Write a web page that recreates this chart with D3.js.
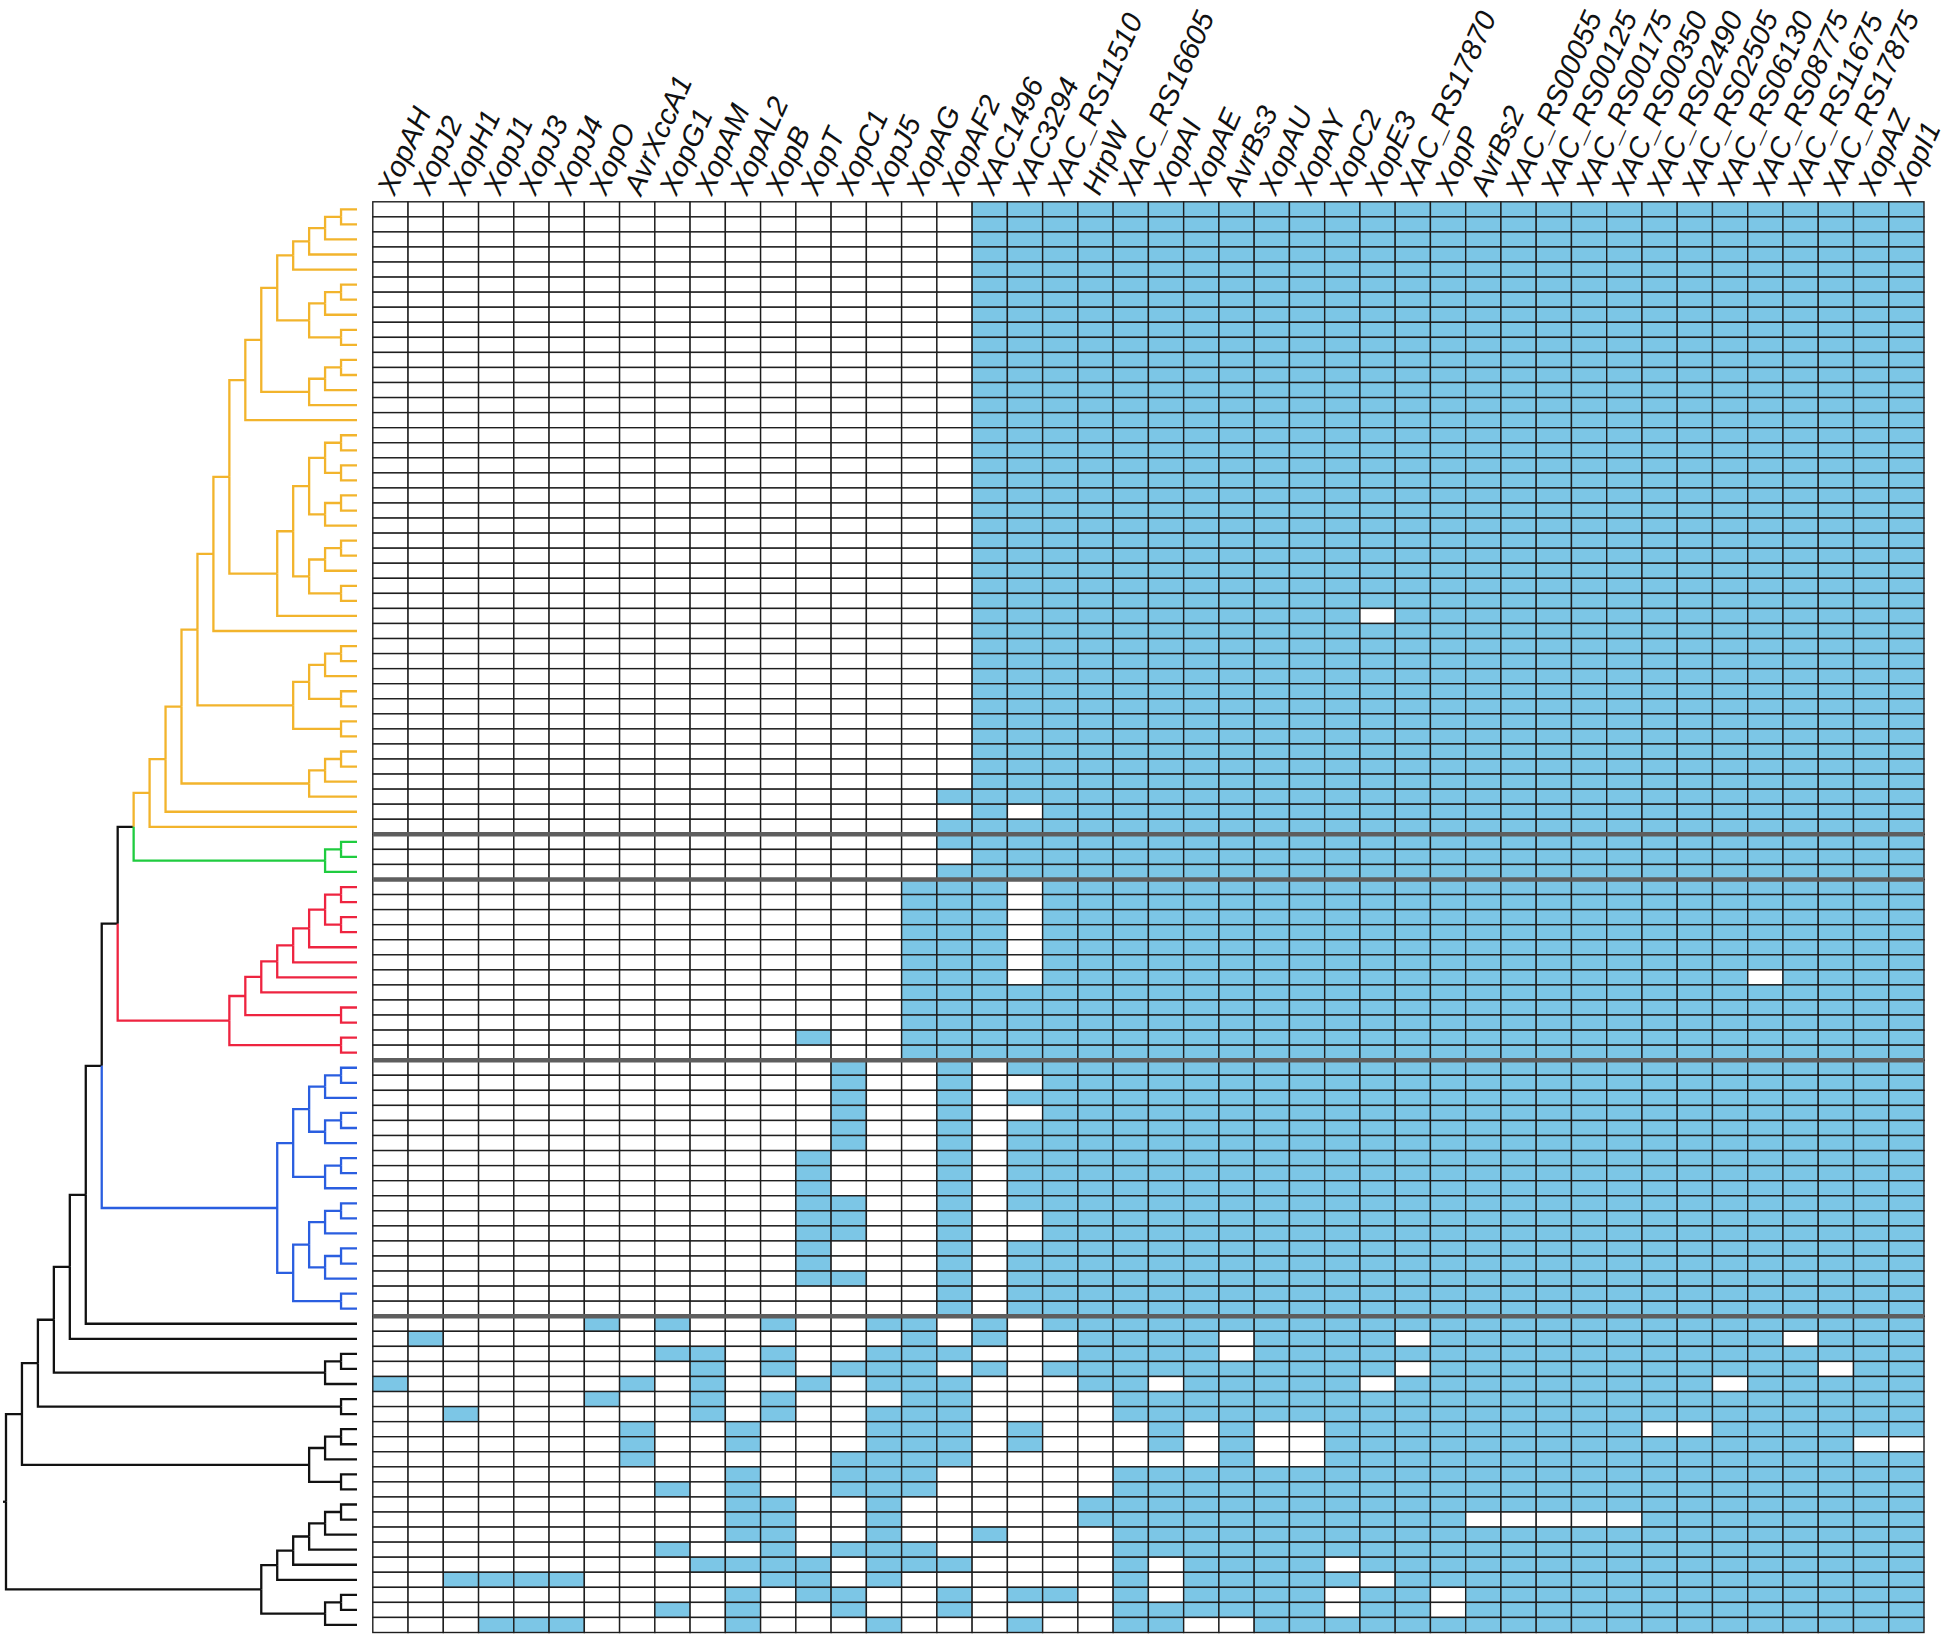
<!DOCTYPE html>
<meta charset="utf-8">
<style>
  body { margin: 0; background: #fff; }
  .label { font: italic 29px "Liberation Sans", Arial, sans-serif; fill: #111; }
</style>
<html>
<head>
  <script src="https://cdn.jsdelivr.net/npm/d3@7/dist/d3.min.js"></script>
</head>
<body>
<svg id="chart"></svg>
<script>
// effector genes (columns)
var genes = ["XopAH", "XopJ2", "XopH1", "XopJ1", "XopJ3", "XopJ4", "XopO", "AvrXccA1", "XopG1", "XopAM",
  "XopAL2", "XopB", "XopT", "XopC1", "XopJ5", "XopAG", "XopAF2", "XAC1496", "XAC3294", "XAC_RS11510",
  "HrpW", "XAC_RS16605", "XopAI", "XopAE", "AvrBs3", "XopAU", "XopAY", "XopC2", "XopE3", "XAC_RS17870",
  "XopP", "AvrBs2", "XAC_RS00055", "XAC_RS00125", "XAC_RS00175", "XAC_RS00350", "XAC_RS02490",
  "XAC_RS02505", "XAC_RS06130", "XAC_RS08775", "XAC_RS11675", "XAC_RS17875", "XopAZ", "XopI1"];

// presence (1) / absence (0), one string per strain, groups of 4 columns
var yellowRows = [
  "0000 0000 0000 0000 0111 1111 1111 1111 1111 1111 1111",
  "0000 0000 0000 0000 0111 1111 1111 1111 1111 1111 1111",
  "0000 0000 0000 0000 0111 1111 1111 1111 1111 1111 1111",
  "0000 0000 0000 0000 0111 1111 1111 1111 1111 1111 1111",
  "0000 0000 0000 0000 0111 1111 1111 1111 1111 1111 1111",
  "0000 0000 0000 0000 0111 1111 1111 1111 1111 1111 1111",
  "0000 0000 0000 0000 0111 1111 1111 1111 1111 1111 1111",
  "0000 0000 0000 0000 0111 1111 1111 1111 1111 1111 1111",
  "0000 0000 0000 0000 0111 1111 1111 1111 1111 1111 1111",
  "0000 0000 0000 0000 0111 1111 1111 1111 1111 1111 1111",
  "0000 0000 0000 0000 0111 1111 1111 1111 1111 1111 1111",
  "0000 0000 0000 0000 0111 1111 1111 1111 1111 1111 1111",
  "0000 0000 0000 0000 0111 1111 1111 1111 1111 1111 1111",
  "0000 0000 0000 0000 0111 1111 1111 1111 1111 1111 1111",
  "0000 0000 0000 0000 0111 1111 1111 1111 1111 1111 1111",
  "0000 0000 0000 0000 0111 1111 1111 1111 1111 1111 1111",
  "0000 0000 0000 0000 0111 1111 1111 1111 1111 1111 1111",
  "0000 0000 0000 0000 0111 1111 1111 1111 1111 1111 1111",
  "0000 0000 0000 0000 0111 1111 1111 1111 1111 1111 1111",
  "0000 0000 0000 0000 0111 1111 1111 1111 1111 1111 1111",
  "0000 0000 0000 0000 0111 1111 1111 1111 1111 1111 1111",
  "0000 0000 0000 0000 0111 1111 1111 1111 1111 1111 1111",
  "0000 0000 0000 0000 0111 1111 1111 1111 1111 1111 1111",
  "0000 0000 0000 0000 0111 1111 1111 1111 1111 1111 1111",
  "0000 0000 0000 0000 0111 1111 1111 1111 1111 1111 1111",
  "0000 0000 0000 0000 0111 1111 1111 1111 1111 1111 1111",
  "0000 0000 0000 0000 0111 1111 1111 1111 1111 1111 1111",
  "0000 0000 0000 0000 0111 1111 1111 0111 1111 1111 1111",
  "0000 0000 0000 0000 0111 1111 1111 1111 1111 1111 1111",
  "0000 0000 0000 0000 0111 1111 1111 1111 1111 1111 1111",
  "0000 0000 0000 0000 0111 1111 1111 1111 1111 1111 1111",
  "0000 0000 0000 0000 0111 1111 1111 1111 1111 1111 1111",
  "0000 0000 0000 0000 0111 1111 1111 1111 1111 1111 1111",
  "0000 0000 0000 0000 0111 1111 1111 1111 1111 1111 1111",
  "0000 0000 0000 0000 0111 1111 1111 1111 1111 1111 1111",
  "0000 0000 0000 0000 0111 1111 1111 1111 1111 1111 1111",
  "0000 0000 0000 0000 0111 1111 1111 1111 1111 1111 1111",
  "0000 0000 0000 0000 0111 1111 1111 1111 1111 1111 1111",
  "0000 0000 0000 0000 0111 1111 1111 1111 1111 1111 1111",
  "0000 0000 0000 0000 1111 1111 1111 1111 1111 1111 1111",
  "0000 0000 0000 0000 0101 1111 1111 1111 1111 1111 1111",
  "0000 0000 0000 0000 1111 1111 1111 1111 1111 1111 1111"
];
var greenRows = [
  "0000 0000 0000 0000 1111 1111 1111 1111 1111 1111 1111",
  "0000 0000 0000 0000 0111 1111 1111 1111 1111 1111 1111",
  "0000 0000 0000 0000 1111 1111 1111 1111 1111 1111 1111"
];
var redRows = [
  "0000 0000 0000 0001 1101 1111 1111 1111 1111 1111 1111",
  "0000 0000 0000 0001 1101 1111 1111 1111 1111 1111 1111",
  "0000 0000 0000 0001 1101 1111 1111 1111 1111 1111 1111",
  "0000 0000 0000 0001 1101 1111 1111 1111 1111 1111 1111",
  "0000 0000 0000 0001 1101 1111 1111 1111 1111 1111 1111",
  "0000 0000 0000 0001 1101 1111 1111 1111 1111 1111 1111",
  "0000 0000 0000 0001 1101 1111 1111 1111 1111 1110 1111",
  "0000 0000 0000 0001 1111 1111 1111 1111 1111 1111 1111",
  "0000 0000 0000 0001 1111 1111 1111 1111 1111 1111 1111",
  "0000 0000 0000 0001 1111 1111 1111 1111 1111 1111 1111",
  "0000 0000 0000 1001 1111 1111 1111 1111 1111 1111 1111",
  "0000 0000 0000 0001 1111 1111 1111 1111 1111 1111 1111"
];
var blueRows = [
  "0000 0000 0000 0100 1011 1111 1111 1111 1111 1111 1111",
  "0000 0000 0000 0100 1001 1111 1111 1111 1111 1111 1111",
  "0000 0000 0000 0100 1011 1111 1111 1111 1111 1111 1111",
  "0000 0000 0000 0100 1001 1111 1111 1111 1111 1111 1111",
  "0000 0000 0000 0100 1011 1111 1111 1111 1111 1111 1111",
  "0000 0000 0000 0100 1011 1111 1111 1111 1111 1111 1111",
  "0000 0000 0000 1000 1011 1111 1111 1111 1111 1111 1111",
  "0000 0000 0000 1000 1011 1111 1111 1111 1111 1111 1111",
  "0000 0000 0000 1000 1011 1111 1111 1111 1111 1111 1111",
  "0000 0000 0000 1100 1011 1111 1111 1111 1111 1111 1111",
  "0000 0000 0000 1100 1001 1111 1111 1111 1111 1111 1111",
  "0000 0000 0000 1100 1001 1111 1111 1111 1111 1111 1111",
  "0000 0000 0000 1000 1011 1111 1111 1111 1111 1111 1111",
  "0000 0000 0000 1000 1011 1111 1111 1111 1111 1111 1111",
  "0000 0000 0000 1100 1011 1111 1111 1111 1111 1111 1111",
  "0000 0000 0000 0000 1011 1111 1111 1111 1111 1111 1111",
  "0000 0000 0000 0000 1011 1111 1111 1111 1111 1111 1111"
];
var outRows = [
  "0000 0010 1001 0011 0101 1111 1111 1111 1111 1111 1111",
  "0100 0000 0000 0001 0100 1111 0111 1011 1111 1111 0111",
  "0000 0000 1101 0011 1000 1111 0111 1111 1111 1111 1111",
  "0000 0000 0101 0111 0101 1111 1111 1011 1111 1111 1011",
  "1000 0001 0100 1011 1000 1101 1111 0111 1111 1101 1111",
  "0000 0010 0101 0001 1000 0111 1111 1111 1111 1111 1111",
  "0010 0000 0101 0011 1000 0111 1111 1111 1111 1111 1111",
  "0000 0001 0010 0011 1010 0010 1001 1111 1111 0011 1111",
  "0000 0001 0010 0011 1010 0010 1001 1111 1111 1111 1100",
  "0000 0001 0000 0111 1000 0000 1001 1111 1111 1111 1111",
  "0000 0000 0010 0111 0000 0111 1111 1111 1111 1111 1111",
  "0000 0000 1010 0111 0000 0111 1111 1111 1111 1111 1111",
  "0000 0000 0011 0010 0000 1111 1111 1111 1111 1111 1111",
  "0000 0000 0011 0010 0000 1111 1111 1110 0000 1111 1111",
  "0000 0000 0011 0010 0100 0111 1111 1111 1111 1111 1111",
  "0000 0000 1001 0111 0000 0111 1111 1111 1111 1111 1111",
  "0000 0000 0111 1011 1000 0101 1110 1111 1111 1111 1111",
  "0011 1100 0001 1010 0000 0101 1111 0111 1111 1111 1111",
  "0000 0000 0010 1100 1011 0101 1110 1101 1111 1111 1111",
  "0000 0000 1010 0100 1000 0111 1110 1101 1111 1111 1111",
  "0001 1100 0010 0010 0010 0110 0111 1111 1111 1111 1111"
];

// dendrogram, newick: leaves are row numbers, internal labels are merge levels
var yellowTree = "(((((((((((((0,1)1,2)2,3)3,4)4,(((5,6)1,7)2,(8,9)1)3)5,(((10,11)1,12)2,13)3)6,14)7," +
  "(((((15,16)1,(17,18)1)2,((19,20)1,21)2)3,(((22,23)1,24)2,(25,26)1)3)4,27)5)8,28)9," +
  "((((29,30)1,31)2,(32,33)1)3,(34,35)1)4)10,(((36,37)1,38)2,39)3)11,40)12,41)13";
var greenTree = "((42,43)1,44)2";
var redTree = "((((((((45,46)1,(47,48)1)2,49)3,50)4,51)5,52)6,(53,54)1)7,(55,56)1)8";
var blueTree = "(((((57,58)1,59)2,((60,61)1,62)2)3,((63,64)1,65)2)4,((((66,67)1,68)2,((69,70)1,71)2)3,(72,73)1)4)5";
var newick = "(((((((((" + yellowTree + "," + greenTree + ")14," + redTree + ")15," + blueTree + ")16,74)17,75)18," +
  "((76,77)1,78)2)19,(79,80)1)20,(((81,82)1,83)2,(84,85)1)3)21," +
  "((((((86,87)1,88)2,89)3,90)4,91)5,((92,93)1,94)2)6)22";

var groups = [
  { rows: yellowRows, color: "#f2b42c" },
  { rows: greenRows, color: "#1fcc3f" },
  { rows: redRows, color: "#ee2440" },
  { rows: blueRows, color: "#2a5ee0" },
  { rows: outRows, color: "#111111" }
];

var width = 1946, height = 1642;
var gridLeft = 372.8, gridRight = 1924, gridTop = 201.8, gridBottom = 1632.5;
var cellBlue = "#7cc6e6";

var matrix = [], rowGroup = [];
groups.forEach(function(g, gi) {
  g.rows.forEach(function(r) {
    matrix.push(r.replace(/ /g, "").split("").map(Number));
    rowGroup.push(gi);
  });
});

var svg = d3.select("#chart").attr("width", width).attr("height", height);

var x = d3.scaleBand().domain(genes).range([gridLeft, gridRight]);
var y = d3.scaleBand().domain(d3.range(matrix.length)).range([gridTop, gridBottom]);
var hx = d3.scaleLinear().domain([0, 22]).range([357, 6]);

// cells
var cells = [];
matrix.forEach(function(row, i) {
  row.forEach(function(v, j) { cells.push({ r: i, g: genes[j], v: v }); });
});
svg.append("g").selectAll("rect")
  .data(cells)
  .enter().append("rect")
  .attr("x", function(d) { return x(d.g); })
  .attr("y", function(d) { return y(d.r); })
  .attr("width", x.bandwidth())
  .attr("height", y.bandwidth())
  .attr("fill", function(d) { return d.v ? cellBlue : "#fff"; })
  .attr("stroke", "#1e1e1e")
  .attr("stroke-width", 1.4);

// cluster separators
var bounds = [];
var acc = 0;
groups.slice(0, -1).forEach(function(g) { acc += g.rows.length; bounds.push(acc); });
svg.append("g").selectAll("line")
  .data(bounds)
  .enter().append("line")
  .attr("x1", gridLeft).attr("x2", gridRight)
  .attr("y1", function(d) { return y(d); })
  .attr("y2", function(d) { return y(d); })
  .attr("stroke", "#5e5e5e")
  .attr("stroke-width", 4.5);

// column labels
svg.append("g").selectAll("text")
  .data(genes)
  .enter().append("text")
  .attr("class", "label")
  .attr("transform", function(d) {
    return "translate(" + (x(d) + x.bandwidth() / 2 + 4) + "," + (gridTop - 5) + ") rotate(-66)";
  })
  .text(function(d) { return d; });

// dendrogram
function parseNewick(s) {
  var i = 0;
  function num() {
    var j = i;
    while (i < s.length && /[0-9.]/.test(s[i])) i++;
    return +s.slice(j, i);
  }
  function node() {
    if (s[i] === "(") {
      i++;
      var kids = [node()];
      while (s[i] === ",") { i++; kids.push(node()); }
      i++;
      return { children: kids, level: num() };
    }
    return { leaf: num(), level: 0 };
  }
  return node();
}

var root = d3.hierarchy(parseNewick(newick));
root.eachAfter(function(d) {
  if (d.children) {
    d.py = d3.mean(d.children, function(c) { return c.py; });
    var gs = d3.group(d.children, function(c) { return c.grp; });
    d.grp = gs.size === 1 ? d.children[0].grp : -1;
  } else {
    d.py = y(d.data.leaf) + y.bandwidth() / 2;
    d.grp = rowGroup[d.data.leaf];
  }
  d.px = hx(d.data.level);
});

svg.append("g").selectAll("path")
  .data(root.descendants().filter(function(d) { return d.parent; }))
  .enter().append("path")
  .attr("fill", "none")
  .attr("stroke-width", 2.3)
  .attr("stroke", function(d) { return d.grp < 0 ? "#111" : groups[d.grp].color; })
  .attr("d", function(d) {
    return "M" + d.parent.px + "," + d.parent.py + "V" + d.py + "H" + d.px;
  });

svg.append("path")
  .attr("fill", "none")
  .attr("stroke", "#111")
  .attr("stroke-width", 2.3)
  .attr("d", "M" + (root.px - 3) + "," + root.py + "H" + root.px);
</script>
</body>
</html>
